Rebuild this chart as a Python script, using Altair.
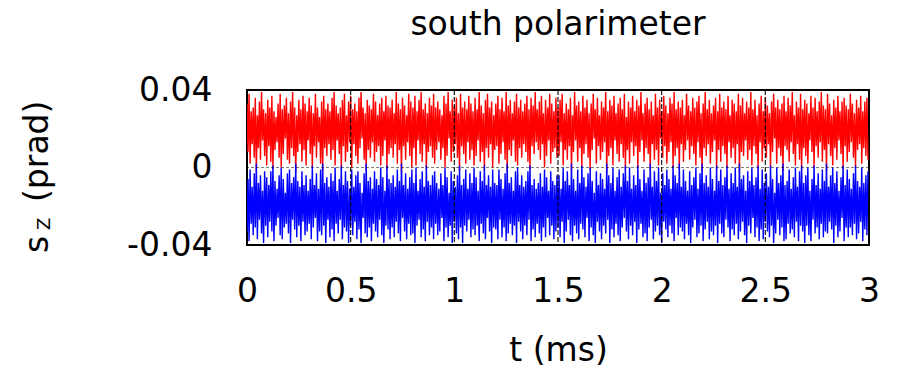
import altair as alt
import pandas as pd

# Signal envelopes, in units of 0.001 (prad).
# Each cycle: the trace swings from its upper value to its lower value.
RED_HIGH = [
    33, 38, 29, 31, 36, 27, 34, 39, 30, 28, 35, 31, 37, 29, 26, 33, 38, 30, 32, 36,
    28, 34, 39, 31, 27, 35, 30, 37, 33, 29, 36, 32, 28, 38, 31, 26, 34, 37, 30, 33,
    29, 36, 39, 32, 28, 31, 35, 38, 27, 34, 37, 30, 33, 29, 36, 39, 31, 28, 35, 32,
    30, 38, 34, 27, 33, 36, 29, 37, 32, 31, 35, 28, 39, 33, 30, 36, 32, 27, 38, 34,
    31, 37, 29, 35, 39, 30, 33, 28, 36, 32, 38, 31, 34, 30, 27, 37, 33, 39, 29, 35,
    32, 36, 28, 38, 31, 34, 30, 37, 33, 29, 36, 30, 39, 32, 28, 35, 38, 31, 34, 27,
    33, 37, 30, 36, 29, 39, 32, 35, 28, 34, 38, 31, 35, 29, 33, 37, 30, 36, 32, 39,
    30, 34, 37, 28, 35, 31, 38, 33, 29, 36,
    31, 35, 38, 28, 33, 30, 36, 27, 39, 32, 34, 29, 37, 31, 35, 28, 33, 38, 30, 36,
    27, 34, 31, 39, 29, 35, 32, 37, 28, 33, 36, 30, 38, 26, 34, 31, 37, 29, 35, 32,
    39, 28, 33, 36, 30, 34, 27, 38, 31, 35, 29, 37, 32, 28, 36, 33, 39, 30, 34, 31,
    35, 27, 38, 32, 29, 36, 31, 34, 37, 28, 33, 39, 30, 35, 28, 32, 36, 29, 38, 31,
    34, 30, 37, 27, 35, 33, 29, 38, 32, 36, 28, 34, 31, 39, 30, 35, 27, 33, 37, 29,
    36, 32, 28, 34, 38, 31, 35, 30, 33, 37, 29, 36, 32, 39, 27, 34, 31, 38, 30, 35,
    33, 28, 37, 31, 36, 29, 34, 39, 32, 30, 38, 33, 27, 35, 31, 37, 29, 34, 36, 32,
    30, 38, 33, 28, 35, 31, 37, 29, 34, 36,
]
RED_LOW = [
    8, 2, 12, 5, -2, 10, 4, 14, 6, 1, 11, 3, -1, 9, 13, 5, 0, 7, 15, 4,
    2, 10, 6, -3, 8, 12, 3, 9, 1, 14, 7, 0, 11, 5, 13, 2, -2, 10, 6, 12,
    4, 9, 1, 14, 7, -1, 11, 3, 8, 13, 0, 12, 6, 2, 10, 15, 4, -2, 9, 5,
    13, 3, 8, 11, 1, 6, 14, -1, 7, 10, 5, 12, 2, 9, -3, 11, 4, 13, 6, 0,
    10, 1, 14, 7, 3, 12, -1, 8, 11, 5, 2, 9, 13, 4, 10, 0, 6, 15, 3, 8,
    12, 5, -2, 11, 7, 2, 13, 4, 9, 1, 6, 14, 3, 8, -1, 10, 5, 12, 0, 9,
    11, 2, 7, 13, 4, -2, 9, 6, 14, 3, 1, 10, 5, 12, 8, 3, -1, 11, 7, 13,
    9, 4, 12, 0, 6, 14, 2, 8, 10, 5,
    6, 13, 1, 9, 4, 11, -2, 8, 14, 3, 10, 0, 7, 12, 5, -1, 9, 15, 2, 11,
    4, 8, 13, -3, 6, 10, 1, 14, 7, 3, 12, 5, -1, 9, 2, 13, 6, 11, 0, 8,
    14, 3, 10, 7, -2, 12, 4, 9, 1, 15, 5, 11, 2, 8, 13, 0, 6, 10, -1, 12,
    3, 9, 14, 4, 11, 7, 1, 13, 5, -2, 10, 6, 12, 2, 8, 14, -1, 9, 3, 11,
    7, 0, 13, 5, 10, 2, 12, -3, 8, 6, 14, 4, 9, 1, 11, 7, -1, 13, 3, 10,
    5, 12, 0, 8, 15, 2, 10, 6, -2, 11, 9, 3, 13, 7, 1, 12, 4, -1, 10, 6,
    2, 14, 8, 0, 11, 5, 13, 3, 9, -2, 12, 6, 1, 10, 4, 14, 7, -1, 11, 3,
    8, 13, 5, 0, 9, 12, 2, 10, 6, 4,
]
BLUE_HIGH = [
    -6, -1, -10, -3, 2, -8, -4, -12, -2, -5, -9, -2, 1, -7, -11, -4, 0, -6, -13, -3,
    -1, -8, -5, 2, -7, -10, -2, -9, -4, -12, -6, 1, -9, -3, -11, -1, 2, -8, -5, -10,
    -3, -7, 0, -12, -6, 1, -9, -2, -7, -11, -1, -10, -4, -2, -8, -13, -3, 2, -7, -5,
    -11, -2, -6, -9, 0, -5, -12, 1, -6, -8, -4, -10, -1, -7, 2, -9, -3, -11, -5, -1,
    -8, 0, -12, -6, -2, -10, 1, -7, -9, -4, -2, -8, -11, -3, -9, 0, -5, -13, -2, -7,
    -10, -4, 1, -9, -6, -1, -11, -3, -8, 0, -5, -12, -2, -7, 1, -9, -4, -10, -1, -8,
    -9, -1, -6, -11, -3, 2, -8, -5, -12, -2, 0, -9, -4, -10, -7, -2, 1, -9, -6, -11,
    -8, -3, -10, -1, -5, -12, -2, -7, -9, -4,
    -4, -11, 0, -7, -2, -9, 2, -6, -12, -1, -8, 1, -5, -10, -3, 0, -7, -13, -2, -9,
    -3, -6, -11, 2, -4, -8, 0, -12, -5, -1, -10, -3, 1, -7, 0, -11, -4, -9, 1, -6,
    -12, -1, -8, -5, 2, -10, -2, -7, 0, -13, -3, -9, -1, -6, -11, 1, -4, -8, 2, -10,
    -1, -7, -12, -2, -9, -5, 0, -11, -3, 2, -8, -4, -10, 0, -6, -12, 1, -7, -1, -9,
    -5, 1, -11, -3, -8, 0, -10, 2, -6, -4, -12, -2, -7, 0, -9, -5, 1, -11, -1, -8,
    -3, -10, 1, -6, -13, 0, -8, -4, 2, -9, -7, -1, -11, -5, 0, -10, -2, 1, -8, -4,
    0, -12, -6, 1, -9, -3, -11, -1, -7, 2, -10, -4, 0, -8, -2, -12, -5, 1, -9, -1,
    -6, -11, -3, 1, -7, -10, 0, -8, -4, -2,
]
BLUE_LOW = [
    -33, -38, -29, -35, -31, -37, -27, -34, -39, -30, -36, -28, -33, -38, -30, -26, -35, -37, -31, -29,
    -34, -39, -27, -32, -36, -30, -38, -28, -35, -33, -29, -37, -31, -26, -38, -33, -35, -30, -39, -27,
    -36, -32, -38, -29, -34, -27, -37, -31, -33, -39, -30, -35, -28, -37, -32, -39, -26, -34, -36, -31,
    -38, -29, -33, -36, -27, -35, -39, -30, -32, -37, -31, -36, -28, -34, -38, -26, -33, -37, -29, -35,
    -34, -39, -30, -27, -36, -32, -38, -28, -35, -31, -37, -29, -35, -33, -26, -38, -31, -36, -30, -39,
    -28, -34, -37, -31, -39, -30, -33, -27, -36, -32, -35, -30, -38, -29, -34, -37, -26, -33, -39, -31,
    -32, -37, -27, -36, -31, -38, -34, -29, -35, -30, -39, -28, -33, -37, -30, -35, -27, -38, -32, -36,
    -29, -34, -38, -31, -36, -26, -35, -30, -37, -33,
    -31, -36, -28, -39, -33, -27, -35, -38, -30, -34, -37, -29, -32, -36, -26, -38, -31, -35, -39, -28,
    -33, -37, -30, -34, -27, -39, -32, -36, -29, -35, -38, -31, -26, -33, -37, -30, -35, -28, -39, -32,
    -29, -36, -34, -38, -31, -27, -37, -33, -30, -35, -39, -28, -32, -36, -30, -34, -38, -26, -35, -31,
    -33, -37, -29, -35, -39, -31, -27, -36, -34, -30, -38, -32, -28, -37, -33, -35, -30, -39, -29, -34,
    -36, -27, -31, -38, -32, -35, -29, -37, -33, -28, -35, -39, -30, -34, -26, -36, -31, -38, -32, -37,
    -28, -33, -36, -30, -39, -34, -27, -35, -31, -38, -37, -29, -34, -32, -36, -28, -38, -30, -33, -39,
    -30, -35, -38, -27, -34, -31, -37, -29, -36, -33, -34, -28, -32, -39, -30, -36, -33, -26, -38, -31,
    -36, -31, -35, -29, -37, -34, -28, -38, -32, -35,
]
CYCLE_MS = 0.01          # one swing per 0.01 ms
X_TICKS = [0, 0.5, 1, 1.5, 2, 2.5, 3]
X_GRID = [0.5, 1, 1.5, 2, 2.5]
Y_TICKS = [-0.04, 0, 0.04]
Y_GRID = [0]

rows_red, rows_blue = [], []
for i in range(len(RED_HIGH)):
    t0 = i * CYCLE_MS
    t1 = t0 + CYCLE_MS / 2
    rows_red.append({"t": t0, "s": RED_HIGH[i] / 1000})
    rows_red.append({"t": t1, "s": RED_LOW[i] / 1000})
    rows_blue.append({"t": t0, "s": BLUE_LOW[i] / 1000})
    rows_blue.append({"t": t1, "s": BLUE_HIGH[i] / 1000})
red = pd.DataFrame(rows_red)
blue = pd.DataFrame(rows_blue)

FONT = "DejaVu Sans"
FS = 33

x_scale = alt.Scale(domain=[0, 3], nice=False, zero=False)
y_scale = alt.Scale(domain=[-0.04, 0.04], nice=False, zero=False)

x_enc = alt.X(
    "t:Q", scale=x_scale,
    axis=alt.Axis(
        values=X_TICKS, labelExpr="datum.value", ticks=False, domain=False,
        labelFont=FONT, labelFontSize=FS, labelColor="black", labelPadding=30,
        labelFlush=False, labelOverlap=False, grid=False,
        title="t (ms)", titleFont=FONT, titleFontSize=FS, titleFontWeight="normal",
        titleColor="black", titleY=115, titleBaseline="alphabetic",
    ),
)
y_enc = alt.Y(
    "s:Q", scale=y_scale,
    axis=alt.Axis(
        values=Y_TICKS, labelExpr="datum.value", ticks=False, domain=False,
        labelFont=FONT, labelFontSize=FS, labelColor="black", labelPadding=35,
        labelFlush=False, labelOverlap=False, grid=False, title=None,
    ),
)

red_line = alt.Chart(red).mark_line(color="#ff0000", strokeWidth=1.4, clip=True).encode(x=x_enc, y=y_enc)
blue_line = alt.Chart(blue).mark_line(color="#0000ff", strokeWidth=1.4, clip=True).encode(x=x_enc, y=y_enc)

vgrid = alt.Chart(pd.DataFrame({"g": X_GRID})).mark_rule(
    color="black", strokeWidth=1.2, strokeDash=[5, 2], opacity=0.9
).encode(x=alt.X("g:Q", scale=x_scale))
hgrid = alt.Chart(pd.DataFrame({"g": Y_GRID})).mark_rule(
    color="black", strokeWidth=1, strokeDash=[3, 2], opacity=0.5
).encode(y=alt.Y("g:Q", scale=y_scale))


def label(text, x, y, size, angle=270, align="left"):
    return alt.Chart(pd.DataFrame({"k": [0]})).mark_text(
        text=text, font=FONT, fontSize=size, color="black", angle=angle,
        align=align, baseline="alphabetic",
    ).encode(x=alt.value(x), y=alt.value(y))


ylab_s = label("s", -199, 163, FS)
ylab_z = label("Z", -197, 140, 18)
ylab_p = label("(prad)", -199, 112, FS)
title = label("south polarimeter", 311, -55, FS, angle=0, align="center")

chart = alt.layer(red_line, blue_line, vgrid, hgrid, ylab_s, ylab_z, ylab_p, title).properties(
    width=622, height=155,
    autosize=alt.AutoSizeParams(type="none"),
    padding={"left": 247, "top": 90, "right": 28, "bottom": 126},
).configure(background="white").configure_view(stroke="black", strokeWidth=2)

chart.save("out.html", embed_options={"renderer": "svg", "actions": False})
